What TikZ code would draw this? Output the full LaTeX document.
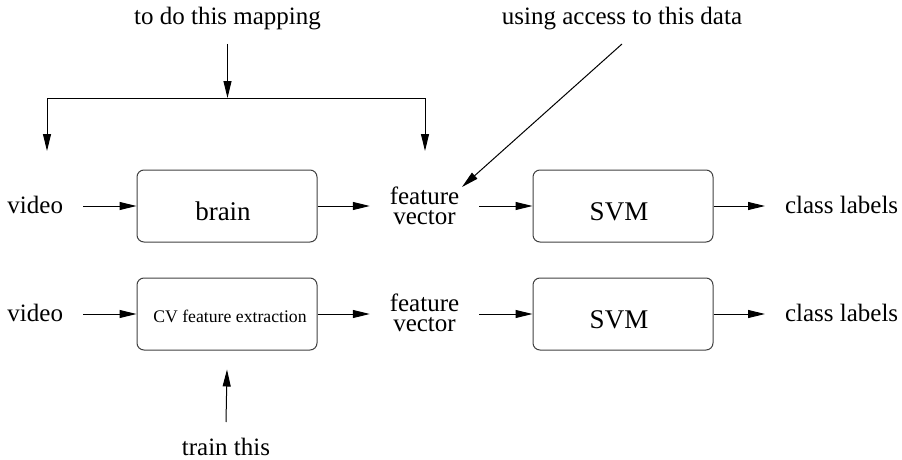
\documentclass[tikz,border=0pt]{standalone}
\usepackage{fontspec}
\newfontfamily\tms{Liberation Serif}[Extension=.ttf, UprightFont=LiberationSerif-Regular]
\usetikzlibrary{arrows.meta}
\begin{document}
\begin{tikzpicture}[x=1pt,y=-1pt,
  arr/.style={-{Triangle[length=17pt,width=8pt]}, line width=1pt},
  tnode/.style={inner sep=0pt, outer xsep=20pt, outer ysep=0pt, align=center,
    font=\tms\fontsize{25}{20}\selectfont},
  box/.style={draw=black!75, line width=1pt, rounded corners=7pt,
    minimum width=180pt, minimum height=72pt, inner sep=0pt},
  boxtext/.style={inner sep=0pt, font=\tms\fontsize{27}{30}\selectfont},
  smalltext/.style={inner sep=0pt, font=\tms\fontsize{17.7}{20}\selectfont}]
\useasboundingbox (0,0) rectangle (902,460);

% top labels
\node[tnode, anchor=base] (map) at (227.5,25) {to do this mapping};
\node[tnode, anchor=base] (data) at (622,25) {using access to this data};

% row 1
\node[tnode, anchor=base east] (v1) at (83,213) {video};
\node[box] (brain) at (227,206) {};
\node[boxtext, anchor=base] (brainT) at ([xshift=-4pt,yshift=-14.5pt]brain.center) {brain};
\node[tnode] (fv1) at (424.5,206) {feature\\vector};
\node[box] (svm1) at (623,206) {};
\node[boxtext, anchor=base] (svm1T) at ([xshift=-4pt,yshift=-14pt]svm1.center) {SVM};
\node[tnode, anchor=base west] (cl1) at (765,213) {class labels};

% row 2
\node[tnode, anchor=base east] (v2) at (83,321) {video};
\node[box] (cv) at (227,314) {};
\node[smalltext, anchor=base] (cvT) at ([xshift=3pt,yshift=-8pt]cv.center) {CV feature extraction};
\node[tnode] (fv2) at (424.5,313) {feature\\vector};
\node[box] (svm2) at (623,314) {};
\node[boxtext, anchor=base] (svm2T) at ([xshift=-4pt,yshift=-14pt]svm2.center) {SVM};
\node[tnode, anchor=base west] (cl2) at (765,321) {class labels};

\node[tnode, anchor=base] (tr) at (226,455) {train this};

% bracket
\coordinate (bl) at (47,98);
\coordinate (br) at (425,98);
\coordinate (bla) at (47,151);
\coordinate (bra) at (425,151);
\coordinate (dtip) at (462,187);

\draw[arr] ([yshift=-19pt]map.base) -- (map.base |- bl);
\draw[{Triangle[length=17pt,width=8pt]}-{Triangle[length=17pt,width=8pt]}, line width=1pt]
  (bla) -- (bl) -- (br) -- (bra);
\draw[arr] ([yshift=-19pt]data.base) -- (dtip);

% row 1 arrows
\draw[arr] (v1.east |- brain.west) -- (brain.west);
\draw[arr] (brain.east) -- (brain.east -| fv1.west);
\draw[arr] (fv1.east |- svm1.west) -- (svm1.west);
\draw[arr] (svm1.east) -- (svm1.east -| cl1.west);

% row 2 arrows
\draw[arr] (v2.east |- cv.west) -- (cv.west);
\draw[arr] (cv.east) -- (cv.east -| fv2.west);
\draw[arr] (fv2.east |- svm2.west) -- (svm2.west);
\draw[arr] (svm2.east) -- (svm2.east -| cl2.west);

\draw[arr] ([yshift=33pt]tr.base) -- ([yshift=-19pt]cv.south);
\end{tikzpicture}
\end{document}
